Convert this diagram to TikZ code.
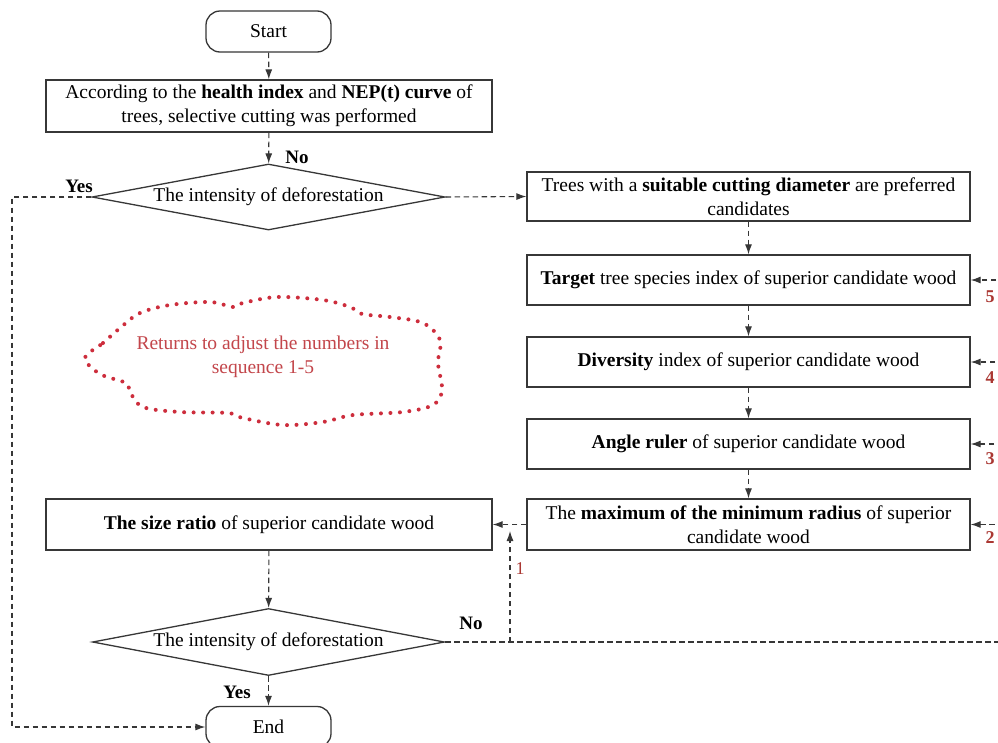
\documentclass[tikz,border=0pt]{standalone}
\usepackage{fontspec}
\setmainfont{Liberation Serif}
\usetikzlibrary{shapes.geometric,arrows.meta}
\definecolor{lcol}{RGB}{55,55,55}
\definecolor{numcol}{RGB}{170,55,50}
\definecolor{cloudcol}{RGB}{205,45,60}
\definecolor{cloudtxt}{RGB}{195,70,75}
\tikzset{
  every node/.style={font=\fontsize{19.5}{24}\selectfont},
  procbox/.style={draw=lcol, line width=1.3pt, rectangle, align=center, inner sep=2pt},
  termbox/.style={draw=lcol, line width=1.3pt, rectangle, rounded corners=14pt, minimum width=125pt, minimum height=41pt},
  decbox/.style={draw=lcol, line width=1.3pt, diamond, aspect=5.3, inner sep=0pt, minimum width=353pt, minimum height=66pt},
  flow/.style={draw=lcol, line width=1.1pt, dash pattern=on 5.5pt off 3.5pt, -{Latex[length=10pt,width=7pt]}},
  flowline/.style={draw=lcol, line width=1.1pt, dash pattern=on 5.5pt off 3.5pt},
  lbl/.style={font=\fontsize{19}{23}\selectfont\bfseries},
  numlbl/.style={text=numcol, font=\fontsize{18}{21}\selectfont\bfseries},
  clouddots/.style={draw=cloudcol, line width=4pt, line cap=round, dash pattern=on 0pt off 9.5pt},
}
\begin{document}
\begin{tikzpicture}[x=1pt,y=-1pt]
\useasboundingbox (0,0) rectangle (998,742);
\clip (0,0) rectangle (998,742);
\fill[white] (0,0) rectangle (998,742);

% left column
\node[termbox] (start) at (268.5,31.5) {Start};
\node[procbox, minimum width=446pt, minimum height=52pt] (b1) at (269,106)
  {According to the \textbf{health index} and \textbf{NEP(t) curve} of\\trees, selective cutting was performed};
\node[decbox] (d1) at (268.5,197) {The intensity of deforestation};

% right column
\node[procbox, minimum width=443pt, minimum height=49pt] (trees) at (748.5,196.5)
  {Trees with a \textbf{suitable cutting diameter} are preferred\\candidates};
\node[procbox, minimum width=443pt, minimum height=50pt] (target) at (748.5,280)
  {\textbf{Target} tree species index of superior candidate wood};
\node[procbox, minimum width=443pt, minimum height=50pt] (div) at (748.5,362)
  {\textbf{Diversity} index of superior candidate wood};
\node[procbox, minimum width=443pt, minimum height=50pt] (angle) at (748.5,444)
  {\textbf{Angle ruler} of superior candidate wood};
\node[procbox, minimum width=443pt, minimum height=51pt] (maxr) at (748.5,524.5)
  {The \textbf{maximum of the minimum radius} of superior\\candidate wood};

% lower left
\node[procbox, minimum width=446pt, minimum height=51pt] (size) at (269,524.5)
  {\textbf{The size ratio} of superior candidate wood};
\node[decbox, minimum width=352pt, minimum height=67pt] (d2) at (268.5,642) {The intensity of deforestation};
\node[termbox] (end) at (268.5,727) {End};

% cloud
\draw[clouddots] plot[smooth cycle, tension=0.55] coordinates {
  (85,358) (103,343) (120,328) (140,313) (170,305) (210,302) (233,307) (243,303)
  (277,297) (323,300) (350,307) (362,314) (390,317) (423,323) (440,340) (438,363)
  (442,390) (433,405) (403,412) (353,415) (323,422) (283,425) (243,418) (228,413)
  (180,412) (143,407) (130,392) (126,383) (100,374)};
\node[text=cloudtxt, align=center] (cloudtext) at (263,357)
  {Returns to adjust the numbers in\\sequence 1-5};

% helper coordinates
\coordinate (lc) at (12,197);
\coordinate (jn) at (510,642);
\coordinate (jtop) at (510,531);
\coordinate (rb) at (1012,642);

% main flow
\draw[flow] (start) -- (b1);
\draw[flow] (b1) -- (d1);
\draw[flow] (d1.east) -- (trees.west);
\draw[flow] (trees) -- (target);
\draw[flow] (target) -- (div);
\draw[flow] (div) -- (angle);
\draw[flow] (angle) -- (maxr);
\draw[flow] (maxr.west) -- (size.east);
\draw[flow] (size) -- (d2);
\draw[flow] (d2) -- (end);
\draw[flow] (d1.west) -- (lc) |- (end.west);

% loop back
\draw[flowline, line width=1.7pt] (d2.east) -- (rb);
\draw[flow] (jn) -- (jtop);
\draw[flow] (rb) |- (target.east);
\draw[flow] (rb) |- (div.east);
\draw[flow] (rb) |- (angle.east);
\draw[flow] (rb) |- (maxr.east);

% labels
\node[lbl] (noTop) at (297,157) {No};
\node[lbl] (yesTop) at (79,186) {Yes};
\node[lbl] (noBot) at (471,623) {No};
\node[lbl] (yesBot) at (237,692) {Yes};
\node[numlbl] (n5) at (990,297) {5};
\node[numlbl] (n4) at (990,378) {4};
\node[numlbl] (n3) at (990,459) {3};
\node[numlbl] (n2) at (990,538) {2};
\node[text=numcol, font=\fontsize{18}{21}\selectfont] (n1) at (520,569) {1};
\end{tikzpicture}
\end{document}
